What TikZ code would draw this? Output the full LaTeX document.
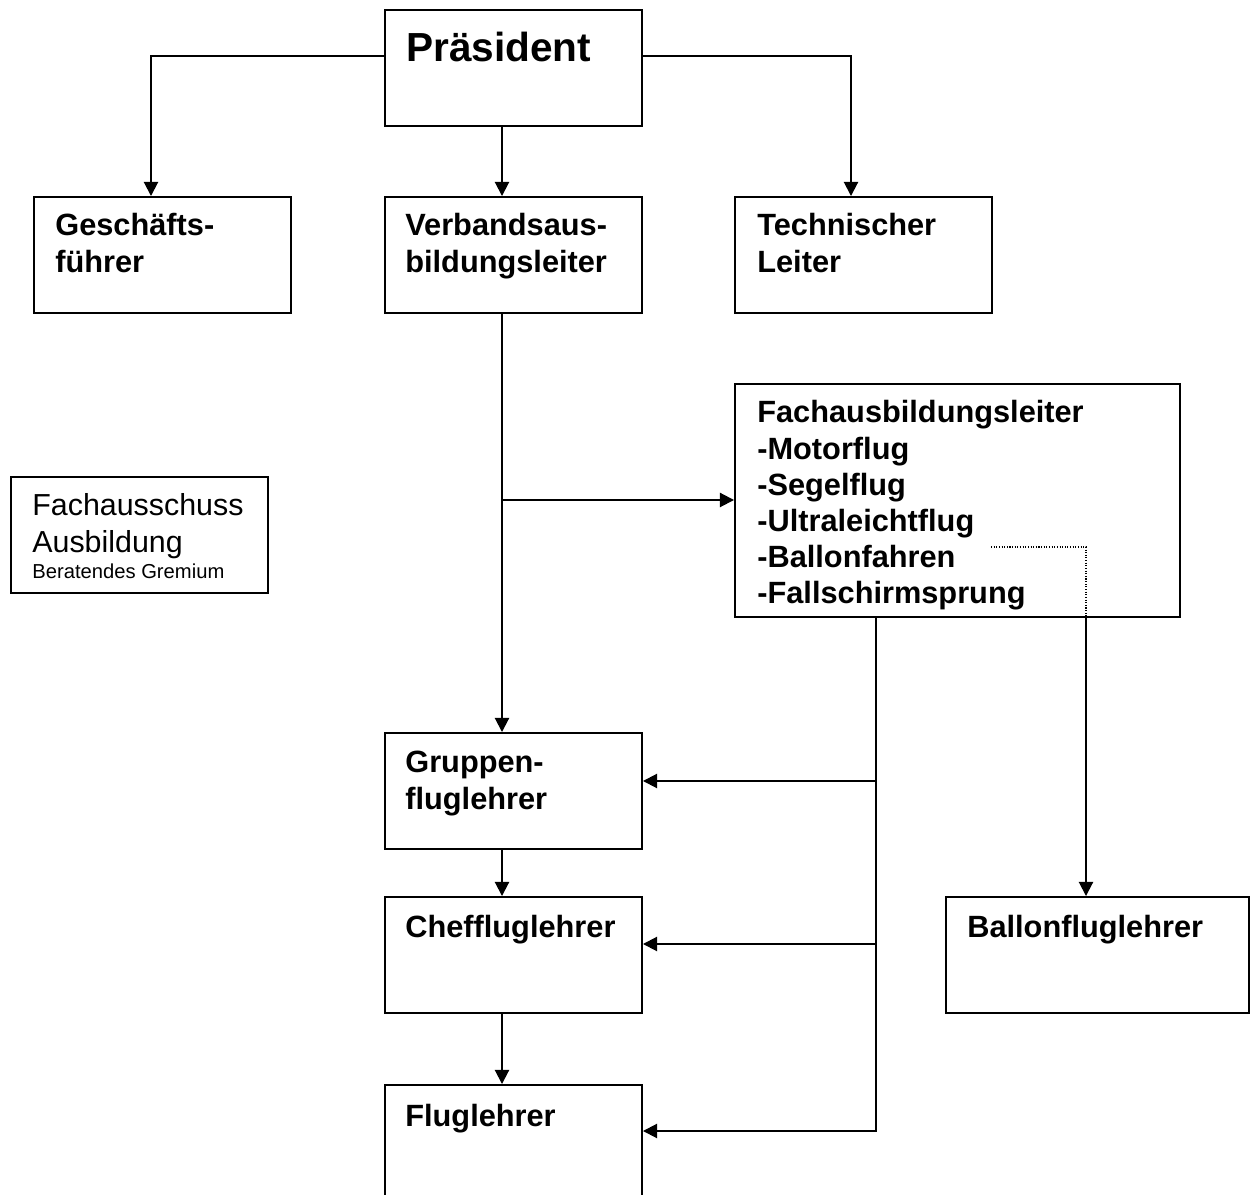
\documentclass[tikz,border=0pt]{standalone}
\usepackage{fontspec}
\setmainfont{Liberation Sans}
\usetikzlibrary{arrows.meta,fit}
\begin{document}
\begin{tikzpicture}[x=0.02cm,y=-0.02cm,
  box/.style={draw=black,line width=1.1pt,inner sep=0pt,fill=white},
  txt/.style={inner sep=0pt,anchor=base west,font=\bfseries\fontsize{17.5}{20.8}\selectfont},
  txtr/.style={inner sep=0pt,anchor=base west,font=\fontsize{17.3}{20.8}\selectfont},
  link/.style={line width=1.1pt},
  arr/.style={line width=1.1pt,-{Triangle[length=8pt,width=8pt]}},
  dotline/.style={line width=0.7pt,dash pattern=on 0.6pt off 0.9pt}]
\useasboundingbox (0,0) rectangle (1255,1195);
\clip (0,0) rectangle (1255,1195);
\fill[white] (0,0) rectangle (1255,1195);
% boxes
\node[box,fit={(385,10)(642,126)}] (pres) {};
\node[box,fit={(34,197)(291,313)}] (gesch) {};
\node[box,fit={(385,197)(642,313)}] (verb) {};
\node[box,fit={(735,197)(992,313)}] (tech) {};
\node[box,fit={(11,477)(268,593)}] (fa) {};
\node[box,fit={(735,384)(1180,617)}] (fach) {};
\node[box,fit={(385,733)(642,849)}] (grp) {};
\node[box,fit={(385,897)(642,1013)}] (chef) {};
\node[box,fit={(385,1085)(642,1201)}] (flug) {};
\node[box,fit={(946,897)(1249,1013)}] (ballon) {};
% texts
\node[inner sep=0pt,anchor=base west,font=\bfseries\fontsize{23.1}{27}\selectfont] (prest) at (406,62) {Präsident};
\node[txt] (gescht) at (55,236) {\parbox[t]{6cm}{\raggedright Geschäfts-\\führer}};
\node[txt] (verbt) at (405,236) {\parbox[t]{6cm}{\raggedright Verbandsaus-\\bildungsleiter}};
\node[txt] (techt) at (757,236) {\parbox[t]{6cm}{\raggedright Technischer\\Leiter}};
\node[txt] (facht) at (757,423) {\parbox[t]{9cm}{\raggedright\fontsize{17.5}{20.6}\selectfont Fachausbildungsleiter\\-Motorflug\\-Segelflug\\-Ultraleichtflug\\-Ballonfahren\\-Fallschirmsprung}};
\node[txtr] (fat) at (32,516) {\parbox[t]{6cm}{\raggedright Fachausschuss\\Ausbildung\\[-6pt]{\fontsize{11.5}{13}\selectfont Beratendes Gremium}}};
\node[txt] (grpt) at (405,773) {\parbox[t]{6cm}{\raggedright Gruppen-\\fluglehrer}};
\node[txt] (cheft) at (405,938) {Chefflug­lehrer};
\node[txt] (flugt) at (405,1126) {Fluglehrer};
\node[txt] (ballont) at (967,938) {Ballonfluglehrer};
% helper coordinates
\coordinate (ly) at (0,56);
\coordinate (gx) at (151,0);
\coordinate (tx) at (851,0);
\coordinate (xc) at (502,0);
\coordinate (by) at (0,500);
\coordinate (fx) at (876,0);
\coordinate (bx) at (1086,0);
\coordinate (y1) at (0,781);
\coordinate (y2) at (0,944);
\coordinate (y3) at (0,1131);
\coordinate (ds) at (991,547);
% connectors
\draw[arr] (ly -| pres.west) -| (gx |- gesch.north);
\draw[arr] (ly -| pres.east) -| (tx |- tech.north);
\draw[arr] (xc |- pres.south) -- (xc |- verb.north);
\draw[arr] (xc |- verb.south) -- (xc |- grp.north);
\draw[arr] (xc |- by) -- (by -| fach.west);
\draw[arr] (xc |- grp.south) -- (xc |- chef.north);
\draw[arr] (xc |- chef.south) -- (xc |- flug.north);
\draw[arr] (fx |- fach.south) |- (y3 -| flug.east);
\draw[arr] (fx |- y1) -- (y1 -| grp.east);
\draw[arr] (fx |- y2) -- (y2 -| chef.east);
\draw[arr] (bx |- fach.south) -- (bx |- ballon.north);
\draw[dotline] (ds) -| (bx |- fach.south);
\end{tikzpicture}
\end{document}
